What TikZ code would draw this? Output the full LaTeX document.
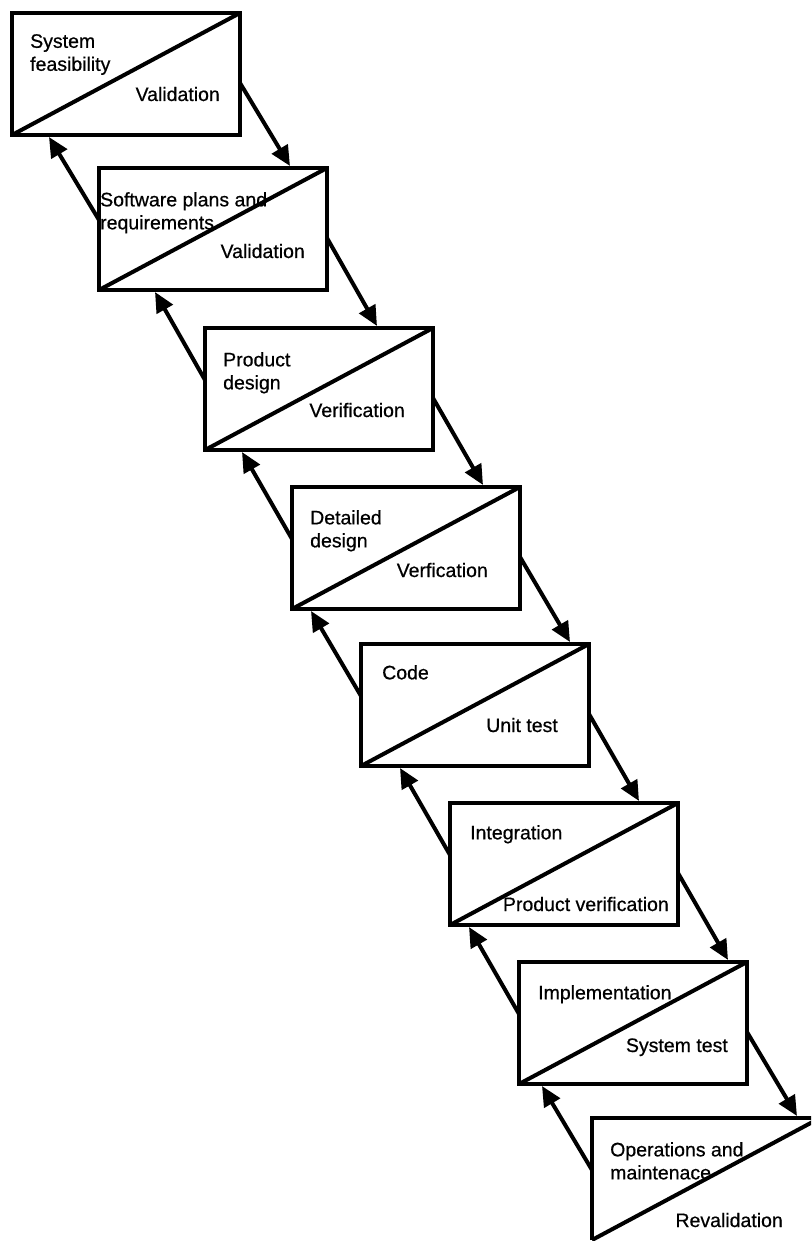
\documentclass[tikz,border=0pt]{standalone}
\usepackage{fontspec}
\setmainfont[FakeBold=0.6]{Liberation Sans}
\usetikzlibrary{arrows.meta,calc}
\begin{document}
\begin{tikzpicture}[x=1pt,y=-1pt,
  stagearea/.style={minimum width=228pt, minimum height=122pt,
                anchor=north west, outer sep=0pt, inner sep=0pt},
  stage/.style={stagearea, draw, line width=4pt},
  diag/.style={line width=4pt},
  flow/.style={line width=4pt, -{Triangle[length=20pt,width=18pt]}},
  lbl/.style={font=\fontsize{19.5}{23}\selectfont, inner sep=0pt, align=left}]
\useasboundingbox (0,0) rectangle (811,1241);
\clip (0,0) rectangle (811,1241);

% stages
\node[stage] (b1) at (12,13) {};
\node[stage] (b2) at (99,168) {};
\node[stage] (b3) at (205,328) {};
\node[stage] (b4) at (292,487) {};
\node[stage] (b5) at (361,644) {};
\node[stage] (b6) at (450,803) {};
\node[stage] (b7) at (519,962) {};
\node[stagearea] (b8) at (592,1118) {};
\draw[diag, line join=miter] (b8.south west) -- (b8.north west) -- (b8.north east);

\foreach \b in {b1,b2,b3,b4,b5,b6,b7,b8}
  \draw[diag] (\b.south west) -- (\b.north east);

% labels
\node[lbl, anchor=north west] (t1) at (30,34) {System\\feasibility};
\node[lbl, anchor=base east] (v1) at (220,101) {Validation};
\node[lbl, anchor=north west] (t2) at (100,192) {Software plans and\\requirements};
\node[lbl, anchor=base east] (v2) at (305,258) {Validation};
\node[lbl, anchor=north west] (t3) at (223,352) {Product\\design};
\node[lbl, anchor=base east] (v3) at (405,417) {Verification};
\node[lbl, anchor=north west] (t4) at (310,510) {Detailed\\design};
\node[lbl, anchor=base east] (v4) at (488,577) {Verfication};
\node[lbl, anchor=north west] (t5) at (382,665) {Code};
\node[lbl, anchor=base east] (v5) at (558,732) {Unit test};
\node[lbl, anchor=north west] (t6) at (470,825) {Integration};
\node[lbl, anchor=base east] (v6) at (669,911) {Product verification};
\node[lbl, anchor=north west] (t7) at (538,985) {Implementation};
\node[lbl, anchor=base east] (v7) at (728,1052) {System test};
\node[lbl, anchor=north west] (t8) at (610,1142) {Operations and\\maintenace};
\node[lbl, anchor=base east] (v8) at (783,1227) {Revalidation};

% arrows
\foreach \i/\j in {1/2,2/3,3/4,4/5,5/6,6/7,7/8} {
  \draw[flow] let \p1=(b\i.north east), \p2=(b\j.north) in
    (\x1,\y1-70pt) -- (\x1+50pt,\y2+2pt);
  \draw[flow] let \p1=(b\j.north west), \p2=(b\i.south) in
    (\x1,\y1-52pt) -- (\x1-50pt,\y2-2pt);
}
\end{tikzpicture}
\end{document}
